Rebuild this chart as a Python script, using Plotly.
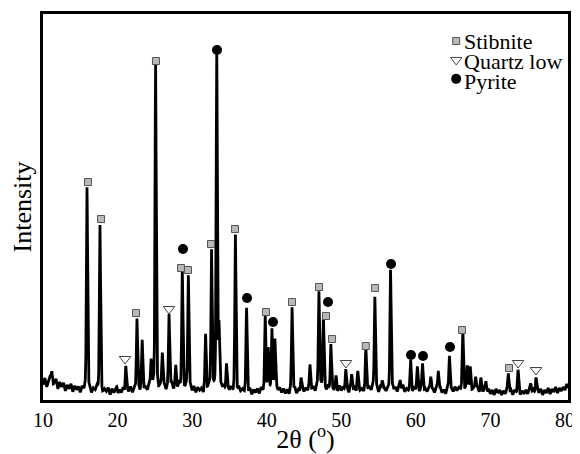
import numpy as np
import plotly.graph_objects as go

# ---------------- data ----------------
# background (noise band) of the pattern, every 0.25 deg from 10 to 80.5
base_2theta = [10 + 0.25 * i for i in range(283)]
base_int = [15, 22, 13, 19, 24, 12, 17, 21, 11, 18, 13, 17, 9, 15, 11, 16, 8, 14, 10, 13,
            7, 13, 9, 12, 8, 12, 6, 11, 9, 13, 7, 12, 6, 10, 8, 12, 5, 11, 7, 10,
            5, 10, 7, 12, 6, 11, 8, 13, 7, 12, 9, 14, 8, 13, 10, 12, 9, 15, 11, 14,
            10, 16, 9, 14, 11, 15, 9, 13, 12, 17, 10, 15, 11, 16, 12, 14, 10, 15, 11, 13,
            8, 13, 7, 12, 9, 11, 6, 13, 9, 14, 8, 12, 10, 15, 9, 14, 11, 13, 8, 12,
            9, 12, 7, 11, 6, 12, 8, 10, 7, 12, 6, 11, 5, 10, 7, 11, 6, 12, 8, 11,
            9, 14, 10, 13, 11, 14, 9, 12, 7, 11, 6, 10, 5, 11, 7, 12, 6, 10, 8, 13,
            8, 12, 9, 14, 10, 13, 8, 14, 11, 15, 10, 13, 9, 14, 8, 12, 9, 13, 8, 14,
            9, 13, 8, 12, 7, 13, 9, 12, 8, 14, 9, 11, 8, 13, 10, 12, 9, 14, 8, 12,
            7, 13, 9, 12, 8, 11, 9, 14, 10, 12, 8, 13, 9, 15, 8, 11, 9, 12, 7, 13,
            9, 12, 8, 13, 7, 11, 8, 12, 6, 11, 7, 12, 8, 13, 7, 10, 6, 12, 8, 11,
            8, 13, 9, 12, 10, 14, 9, 13, 11, 14, 9, 12, 8, 13, 7, 11, 8, 12, 6, 11,
            6, 10, 5, 11, 7, 10, 5, 9, 6, 11, 7, 10, 5, 10, 7, 11, 5, 9, 6, 10,
            6, 11, 7, 10, 6, 12, 7, 11, 5, 10, 7, 12, 6, 11, 8, 13, 7, 12, 9, 13,
            10, 16, 9]

# diffraction peaks: position (2theta, deg) and height above background
peak_2theta = [11.2, 15.9, 17.64, 19.9, 21.1, 22.6, 23.3, 24.5, 25.1, 26.0, 26.9, 27.8,
               28.68, 29.49, 31.8, 32.6, 33.3, 33.6, 34.6, 35.8, 37.3, 39.8, 40.2, 40.7,
               41.1, 43.4, 44.6, 45.8, 47.0, 47.6, 48.6, 49.3, 50.6, 51.4, 52.2, 53.3,
               54.5, 55.5, 56.6, 57.9, 59.3, 60.2, 60.9, 62.0, 63.0, 64.5, 66.3, 66.9,
               67.3, 68.0, 68.7, 69.4, 72.4, 73.7, 75.4, 76.1]
peak_height = [14, 203, 165, 6, 26, 70, 47, 28, 324, 35, 73, 20,
               117, 113, 53, 139, 334, 60, 26, 155, 81, 73, 38, 58,
               48, 84, 12, 22, 97, 72, 46, 12, 21, 15, 16, 39,
               95, 10, 119, 9, 29, 22, 27, 17, 21, 36, 56, 22,
               20, 15, 12, 10, 18, 20, 8, 14]

# phase labels placed above the peaks (2theta, intensity)
stibnite_2theta = [16.03, 17.78, 22.47, 25.15, 28.51, 29.44, 32.53, 35.75, 39.9, 43.39,
                   47.01, 47.95, 48.76, 53.28, 54.52, 66.19, 72.49]
stibnite_int = [218, 181, 87, 339, 132, 130, 156, 171, 88, 98, 113, 84, 61, 54, 112, 70, 32]
quartz_2theta = [21.0, 26.9, 50.63, 73.7, 76.11]
quartz_int = [41, 91, 37, 37, 30]
pyrite_2theta = [28.77, 33.33, 37.36, 40.84, 48.22, 56.67, 59.35, 60.96, 64.58]
pyrite_int = [151, 350, 102, 78, 98, 136, 45, 44, 53]

x_ticks = [10, 20, 30, 40, 50, 60, 70, 80]
legend_names = ["Stibnite", "Quartz low", "Pyrite"]

# ---------------- build the profile ----------------
tt = np.arange(10.0, 80.4001, 0.01)
profile = np.interp(tt, base_2theta, base_int)
fwhm, eta = 0.18, 0.3
sig = fwhm / 2.3548
gam = fwhm / 2
for p, h in zip(peak_2theta, peak_height):
    d = tt - p
    g = np.exp(-0.5 * (d / sig) ** 2)
    l = 1 / (1 + (d / gam) ** 2)
    profile += h * ((1 - eta) * g + eta * l)

SERIF = "Liberation Serif, Times New Roman, serif"

st_marker = dict(symbol="square", size=7, color="#b8b8b8", line=dict(color="#555555", width=1))
qz_marker = dict(symbol="triangle-down", size=10, color="white", line=dict(color="#444444", width=1))
py_marker = dict(symbol="circle", size=10, color="black", line=dict(width=0))

fig = go.Figure()
fig.add_trace(go.Scatter(x=tt, y=profile, mode="lines", line=dict(color="black", width=2.8),
                         showlegend=False, hoverinfo="skip"))
fig.add_trace(go.Scatter(x=stibnite_2theta, y=stibnite_int, mode="markers", marker=st_marker,
                         name=legend_names[0], showlegend=False))
fig.add_trace(go.Scatter(x=quartz_2theta, y=quartz_int, mode="markers", marker=qz_marker,
                         name=legend_names[1], showlegend=False))
fig.add_trace(go.Scatter(x=pyrite_2theta, y=pyrite_int, mode="markers", marker=py_marker,
                         name=legend_names[2], showlegend=False))

# hand-made legend on an overlay axis spanning the plot area (0..1)
leg_x = 0.787
leg_marker_y = [0.930, 0.881, 0.832]
leg_text_y = [0.930, 0.877, 0.826]
for mk, ym, yt, name in zip([st_marker, qz_marker, py_marker], leg_marker_y, leg_text_y, legend_names):
    fig.add_trace(go.Scatter(x=[leg_x], y=[ym], mode="markers", marker=mk, xaxis="x2", yaxis="y2",
                             showlegend=False, hoverinfo="skip"))
    fig.add_annotation(x=leg_x + 0.011, y=yt, xref="x2", yref="y2", text=name, showarrow=False,
                       xanchor="left", yanchor="middle", font=dict(family=SERIF, size=22, color="black"))

# the page body has an 8 px margin, so the figure is 8 px smaller than the window
fig.update_layout(
    width=572, height=446,
    margin=dict(l=35, r=12, t=6, b=54),
    paper_bgcolor="white", plot_bgcolor="white",
    showlegend=False,
    xaxis=dict(range=[10, 80.4], tickvals=x_ticks, ticks="", showline=True, mirror=True,
               linecolor="black", linewidth=2.5, showgrid=False, zeroline=False, automargin=False,
               tickfont=dict(family=SERIF, size=20, color="black"),
               title=dict(text="2θ (<sup>o</sup>)", font=dict(family=SERIF, size=26, color="black"),
                          standoff=4)),
    yaxis=dict(range=[0, 386], showticklabels=False, ticks="", showline=True, mirror=True,
               linecolor="black", linewidth=2.5, showgrid=False, zeroline=False, automargin=False,
               title=dict(text="Intensity", font=dict(family=SERIF, size=26, color="black"),
                          standoff=3)),
    xaxis2=dict(range=[0, 1], overlaying="x", visible=False, fixedrange=True),
    yaxis2=dict(range=[0, 1], overlaying="y", visible=False, fixedrange=True),
)

fig.write_html("out.html")
